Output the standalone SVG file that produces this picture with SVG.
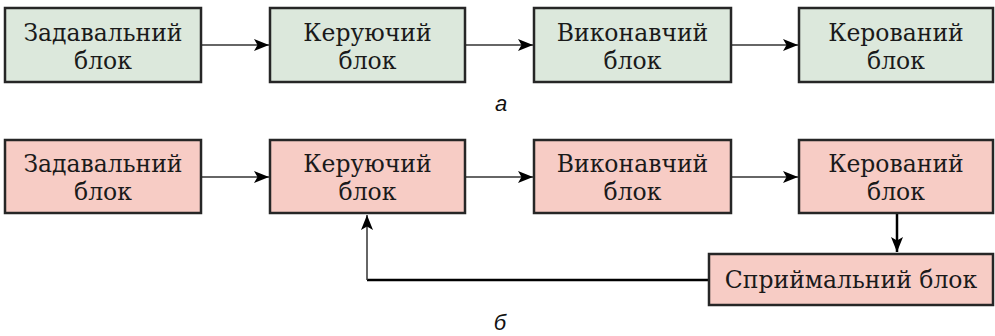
<svg xmlns="http://www.w3.org/2000/svg" width="995" height="336" viewBox="0 0 995 336">
  <defs>
    <style>
      .box-a { fill: #dce8dc; stroke: #262626; stroke-width: 2.5; }
      .box-b { fill: #f7ccc5; stroke: #262626; stroke-width: 2.5; }
      .lbl { font-family: "DejaVu Serif", "Liberation Serif", serif; font-size: 23.5px; fill: #1a1a1a; text-anchor: middle; }
      .cap { font-family: "Liberation Sans", Arial, sans-serif; font-style: italic; font-size: 22px; fill: #111; text-anchor: middle; }
      .thin { stroke: #333; stroke-width: 1.5; fill: none; }
      .thick { stroke: #000; stroke-width: 2.5; fill: none; }
    </style>
    <marker id="arr" markerUnits="userSpaceOnUse" markerWidth="16" markerHeight="12" refX="15" refY="6" orient="auto">
      <path d="M0,0 L15,6 L0,12 L3.5,6 z" fill="#000"/>
    </marker>
  </defs>

  <g id="connectors">
    <line class="thin" x1="201" y1="45" x2="269" y2="45" marker-end="url(#arr)"/>
    <line class="thin" x1="465" y1="45" x2="533" y2="45" marker-end="url(#arr)"/>
    <line class="thin" x1="731" y1="45" x2="798" y2="45" marker-end="url(#arr)"/>
    <line class="thin" x1="201" y1="177" x2="269" y2="177" marker-end="url(#arr)"/>
    <line class="thin" x1="465" y1="177" x2="533" y2="177" marker-end="url(#arr)"/>
    <line class="thin" x1="731" y1="177" x2="798" y2="177" marker-end="url(#arr)"/>
    <line class="thick" x1="897" y1="214" x2="897" y2="252" marker-end="url(#arr)"/>
    <line class="thick" x1="709" y1="280" x2="367" y2="280"/>
    <line class="thin" x1="367" y1="280" x2="367" y2="215" marker-end="url(#arr)"/>
  </g>

  <g id="a-set">
    <g id="a1"><rect class="box-a" x="5" y="8" width="196" height="74"/><text class="lbl" x="103" y="41">Задавальний</text><text class="lbl" x="103" y="69">блок</text></g>
    <g id="a2"><rect class="box-a" x="270" y="8" width="195" height="74"/><text class="lbl" x="367.5" y="41">Керуючий</text><text class="lbl" x="367.5" y="69">блок</text></g>
    <g id="a3"><rect class="box-a" x="534" y="8" width="197" height="74"/><text class="lbl" x="632.5" y="41">Виконавчий</text><text class="lbl" x="632.5" y="69">блок</text></g>
    <g id="a4"><rect class="box-a" x="799" y="8" width="194" height="74"/><text class="lbl" x="896" y="41">Керований</text><text class="lbl" x="896" y="69">блок</text></g>
  </g>
  <text class="cap" x="501" y="111">а</text>

  <g id="b-set">
    <g id="b1"><rect class="box-b" x="5" y="140" width="196" height="73"/><text class="lbl" x="103" y="172">Задавальний</text><text class="lbl" x="103" y="200">блок</text></g>
    <g id="b2"><rect class="box-b" x="270" y="140" width="195" height="73"/><text class="lbl" x="367.5" y="172">Керуючий</text><text class="lbl" x="367.5" y="200">блок</text></g>
    <g id="b3"><rect class="box-b" x="534" y="140" width="197" height="73"/><text class="lbl" x="632.5" y="172">Виконавчий</text><text class="lbl" x="632.5" y="200">блок</text></g>
    <g id="b4"><rect class="box-b" x="799" y="140" width="194" height="73"/><text class="lbl" x="896" y="172">Керований</text><text class="lbl" x="896" y="200">блок</text></g>
    <g id="b5"><rect class="box-b" x="709" y="254" width="284" height="51"/><text class="lbl" x="851" y="288">Сприймальний блок</text></g>
  </g>
  <text class="cap" x="500" y="330">б</text>
</svg>
